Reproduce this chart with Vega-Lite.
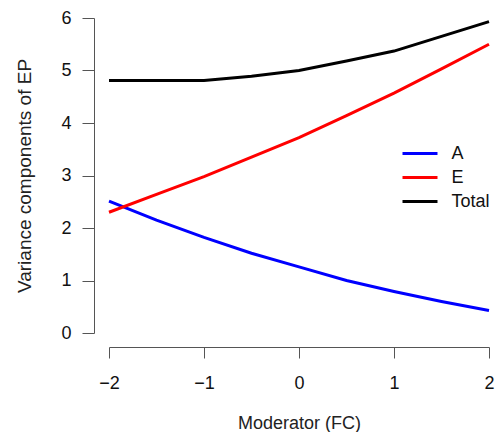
{
  "$schema": "https://vega.github.io/schema/vega-lite/v6.json",
  "autosize": "none",
  "padding": {"left": 109, "top": 18, "right": 11, "bottom": 99},
  "width": 380,
  "height": 315,
  "background": "white",
  "config": {
    "view": {"stroke": null},
    "font": "Liberation Sans",
    "axis": {"grid": false, "domainColor": "#555", "tickColor": "#555", "labelColor": "#111", "titleColor": "#222", "labelFontSize": 18, "titleFontSize": 18, "titleFontWeight": "normal", "labelFont": "Liberation Sans", "titleFont": "Liberation Sans"}
  },
  "data": {
    "values": [
      {"x": -2, "series": "A", "v": 2.51},
      {"x": -1.5, "series": "A", "v": 2.15},
      {"x": -1, "series": "A", "v": 1.82},
      {"x": -0.5, "series": "A", "v": 1.52},
      {"x": 0, "series": "A", "v": 1.26},
      {"x": 0.5, "series": "A", "v": 1.0},
      {"x": 1, "series": "A", "v": 0.79},
      {"x": 1.5, "series": "A", "v": 0.6},
      {"x": 2, "series": "A", "v": 0.43},
      {"x": -2, "series": "E", "v": 2.3},
      {"x": -1.5, "series": "E", "v": 2.64},
      {"x": -1, "series": "E", "v": 2.98},
      {"x": -0.5, "series": "E", "v": 3.35},
      {"x": 0, "series": "E", "v": 3.72},
      {"x": 0.5, "series": "E", "v": 4.14},
      {"x": 1, "series": "E", "v": 4.57},
      {"x": 1.5, "series": "E", "v": 5.03},
      {"x": 2, "series": "E", "v": 5.5},
      {"x": -2, "series": "Total", "v": 4.81},
      {"x": -1.5, "series": "Total", "v": 4.81},
      {"x": -1, "series": "Total", "v": 4.81},
      {"x": -0.5, "series": "Total", "v": 4.89},
      {"x": 0, "series": "Total", "v": 5.0},
      {"x": 0.5, "series": "Total", "v": 5.18},
      {"x": 1, "series": "Total", "v": 5.37},
      {"x": 1.5, "series": "Total", "v": 5.65},
      {"x": 2, "series": "Total", "v": 5.93}
    ]
  },
  "mark": {"type": "line", "strokeWidth": 3},
  "encoding": {
    "x": {
      "field": "x", "type": "quantitative",
      "scale": {"domain": [-2, 2], "nice": false, "zero": false},
      "axis": {"title": "Moderator (FC)", "values": [-2, -1, 0, 1, 2], "offset": 14, "tickSize": 11, "labelPadding": 16, "titlePadding": 22, "format": "d", "labelFlush": false}
    },
    "y": {
      "field": "v", "type": "quantitative",
      "scale": {"domain": [0, 6], "nice": false},
      "axis": {"title": "Variance components of EP", "titleFontSize": 19, "values": [0, 1, 2, 3, 4, 5, 6], "offset": 15, "tickSize": 12, "labelPadding": 11, "titlePadding": 26, "format": "d", "labelFlush": false}
    },
    "color": {
      "field": "series", "type": "nominal",
      "scale": {"domain": ["A", "E", "Total"], "range": ["#0000FF", "#FF0000", "#000000"]},
      "legend": {
        "title": null, "orient": "none", "legendX": 300.5, "legendY": 125,
        "symbolType": "M-2,0H2", "symbolSize": 306, "symbolStrokeWidth": 3,
        "rowPadding": 4, "labelOffset": 21, "labelFontSize": 18, "labelColor": "#111", "labelFont": "Liberation Sans"
      }
    }
  }
}
